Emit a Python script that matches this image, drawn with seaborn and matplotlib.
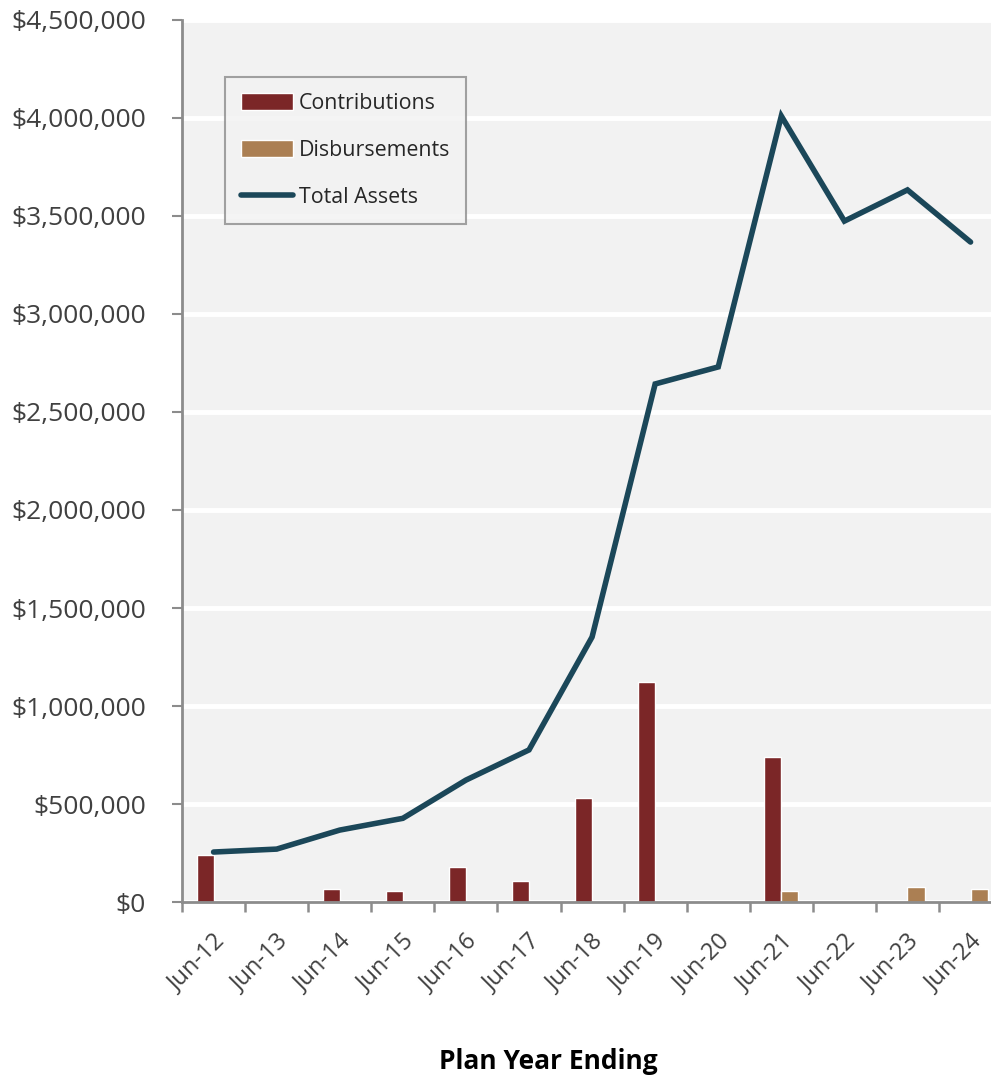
import seaborn as sns
import matplotlib.pyplot as plt
import matplotlib.transforms as mtransforms
import pandas as pd
import numpy as np
from matplotlib.patches import Patch
from matplotlib.lines import Line2D
from matplotlib.ticker import FuncFormatter

years = ['Jun-12', 'Jun-13', 'Jun-14', 'Jun-15', 'Jun-16', 'Jun-17', 'Jun-18',
         'Jun-19', 'Jun-20', 'Jun-21', 'Jun-22', 'Jun-23', 'Jun-24']
contributions = [238000, 0, 65000, 55000, 177000, 106000, 531000,
                 1121000, 0, 741000, 0, 0, 0]
disbursements = [0, 0, 0, 0, 0, 0, 0, 0, 0, 58000, 0, 75000, 65000]
total_assets = [255000, 270000, 367000, 427000, 622000, 776000, 1352000,
                2643000, 2730000, 4010000, 3474000, 3633000, 3367000]

red = '#7b2627'
tan = '#ab7f53'
teal = '#1b4759'
bg = '#f2f2f2'
axis_gray = '#8c8c8c'
text_gray = '#404040'

sns.set_style('white')
plt.rcParams['font.family'] = ['Open Sans', 'DejaVu Sans']

df = pd.DataFrame({'year': years * 2,
                   'value': contributions + disbursements,
                   'kind': ['Contributions'] * 13 + ['Disbursements'] * 13})

fig = plt.figure(figsize=(9.91, 10.8), dpi=100)
# plot area runs slightly past the right edge, as in the original crop
ax = fig.add_axes([0.1837, 0.1648, 0.8275, 0.8167])
ax.set_facecolor(bg)

sns.barplot(data=df, x='year', y='value', hue='kind', order=years,
            palette={'Contributions': red, 'Disbursements': tan},
            width=0.54, gap=0, saturation=1, ax=ax, legend=False)
ax.plot(np.arange(len(years)), total_assets, color=teal, linewidth=4,
        solid_capstyle='round', solid_joinstyle='miter', zorder=5)

ax.set_ylim(0, 4500000)
ax.set_xlim(-0.5, len(years) - 0.5)
ax.set_yticks(np.arange(0, 4500001, 500000))
ax.yaxis.set_major_formatter(FuncFormatter(lambda v, p: '${:,.0f}'.format(v)))
ax.grid(axis='y', color='white', linewidth=3.5)
ax.set_axisbelow(True)

for s in ['top', 'right']:
    ax.spines[s].set_visible(False)
for s in ['left', 'bottom']:
    ax.spines[s].set_color(axis_gray)
    ax.spines[s].set_linewidth(2)

ax.set_xticks(np.arange(len(years)))
ax.set_xticklabels(years, rotation=45, ha='right', va='center',
                   rotation_mode='anchor')
ax.set_xticks(np.arange(-0.5, len(years)), minor=True)
ax.tick_params(axis='x', which='major', length=0, pad=20, labelsize=17,
               labelcolor=text_gray)
ax.tick_params(axis='x', which='minor', length=7, width=1.8, color=axis_gray,
               direction='out', bottom=True)
ax.tick_params(axis='y', length=7, width=1.5, color=axis_gray, left=True,
               labelsize=19, labelcolor=text_gray, pad=19)

# nudge rotated labels so their ends sit like the original
shift = mtransforms.ScaledTranslation(0.08, -0.08, fig.dpi_scale_trans)
for lbl in ax.get_xticklabels():
    lbl.set_transform(lbl.get_transform() + shift)

ax.set_xlabel('Plan Year Ending', fontsize=19, fontweight='bold',
              color='black')
ax.xaxis.set_label_coords(0.4463, -0.181)
ax.xaxis.label.set_va('center')
ax.set_ylabel('')

handles = [Patch(facecolor=red, label='Contributions'),
           Patch(facecolor=tan, label='Disbursements'),
           Line2D([0], [0], color=teal, linewidth=4, solid_capstyle='round',
                  label='Total Assets')]
leg = ax.legend(handles=handles, loc='upper left',
                bbox_to_anchor=(0.0524, 0.935), fontsize=15.4,
                frameon=True, fancybox=False, facecolor=bg, edgecolor=axis_gray,
                handlelength=2.45, handleheight=0.85, handletextpad=0.25,
                labelspacing=1.2, borderpad=0.75, borderaxespad=0)
leg.get_frame().set_linewidth(1.5)

fig.savefig('out.png', dpi=100)
